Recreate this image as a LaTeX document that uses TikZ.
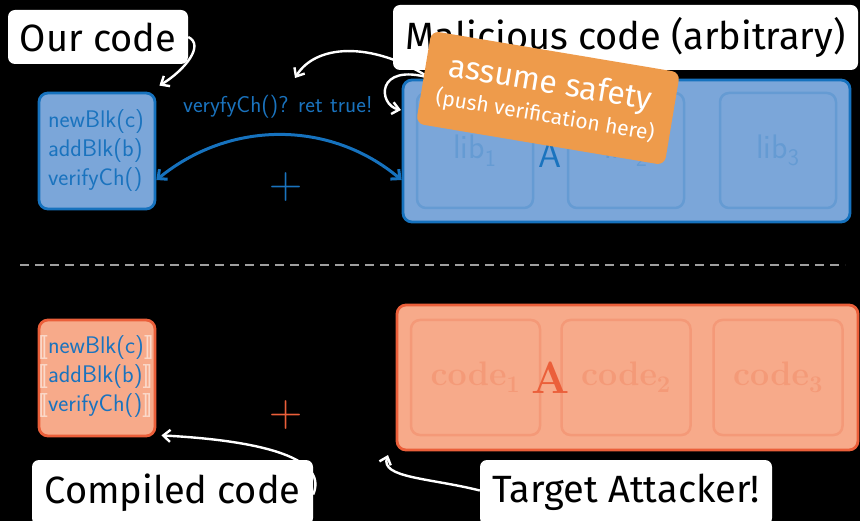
\documentclass[tikz,border=0pt]{standalone}
\usepackage[no-math]{fontspec}
\setmainfont{Fira Sans}
\newfontfamily\lmr{Latin Modern Roman}
\usetikzlibrary{arrows.meta}
\definecolor{bfill}{RGB}{123,166,217}
\definecolor{bdraw}{RGB}{22,114,190}
\definecolor{btext}{RGB}{26,115,190}
\definecolor{ofill}{RGB}{247,170,138}
\definecolor{odraw}{RGB}{235,95,58}
\definecolor{notec}{RGB}{238,155,75}
\newcommand{\fs}[1]{\fontsize{#1}{#1}\selectfont}
\newcommand{\lb}{\textcolor{white!55!ofill}{[\kern-0.13em[}}
\newcommand{\rb}{\textcolor{white!55!ofill}{]\kern-0.13em]}}
\begin{document}
\begin{tikzpicture}[x=1pt,y=-1pt,
  lbl/.style={fill=white, rounded corners=7pt, text=black, font=\fs{38}, inner sep=0pt},
  bbox/.style={fill=bfill, draw=bdraw, line width=2.8pt, rounded corners=9pt, inner sep=0pt},
  binner/.style={fill=bfill, draw=bdraw!22!bfill, line width=2.5pt, rounded corners=9pt, inner sep=0pt,
     minimum width=116pt, minimum height=115pt, text=bdraw!22!bfill, font=\sffamily\fs{34}},
  obox/.style={fill=ofill, draw=odraw, line width=2.8pt, rounded corners=9pt, inner sep=0pt},
  oinner/.style={fill=ofill, draw=odraw!22!ofill, line width=2.5pt, rounded corners=9pt, inner sep=0pt,
     minimum width=129pt, minimum height=115pt, text=odraw!22!ofill, font=\lmr\bfseries\fs{34}},
  codetxt/.style={text=btext, font=\sffamily\fs{24}, align=left, inner sep=0pt},
  plusmark/.style={font=\lmr\fs{46}, inner sep=0pt},
  warr/.style={draw=white, line width=2.4pt, -{Straight Barb[length=7pt,width=12pt,line width=2.4pt]}},
  barr/.style={draw=bdraw, line width=3pt, {Straight Barb[length=7pt,width=13pt,line width=3pt]}-{Straight Barb[length=7pt,width=13pt,line width=3pt]}}
]
\useasboundingbox[fill=black] (0,0) rectangle (860,521);

% top row
\node[bbox, minimum width=116pt, minimum height=116pt] (ob) at (97,151) {};
\node[codetxt] (obt) at (96,151) {newBlk(c)\\[5pt]addBlk(b)\\[5pt]verifyCh()};
\node[bbox, minimum width=447pt, minimum height=142pt] (mb) at (626.5,151) {};
\node[binner] (l1) at (475,150.5) {lib\textsubscript{1}};
\node[binner] (l2) at (626,150.5) {lib\textsubscript{2}};
\node[binner] (l3) at (778,150.5) {lib\textsubscript{3}};
\node[text=btext, font=\sffamily\fs{37}, inner sep=0pt] (ta1) at (550,155) {A};
\node[plusmark, text=btext] (plus1) at (286,187) {+};
\node[text=btext, font=\sffamily\fs{23}, inner sep=0pt] (vt) at (278,107) {veryfyCh()? ret true!};
\draw[barr] ([yshift=-29pt]ob.east) .. controls (230,120) and (330,120) .. ([yshift=-29pt]mb.west);

% labels top
\node[lbl, minimum width=180pt, minimum height=54pt] (oc) at (98,37) {Our code};
\draw[warr] (oc.east) .. controls (205,45) and (185,70) .. ([shift={(3,-6)}]ob.north east);
\coordinate (ns) at (430,78);
\draw[warr] (ns) .. controls (370,40) and (315,45) .. (295,78);
\draw[warr] (ns) .. controls (375,62) and (378,105) .. (401,110);
\node[lbl, minimum width=465pt, minimum height=65pt] (mc) at (625.5,37.5) {Malicious code (arbitrary)};
\node[rotate=-9.5, fill=notec, rounded corners=8pt, minimum width=252pt, minimum height=94pt,
  align=center, text=white, inner sep=0pt] (note) at (548,98)
  {{\fs{32}assume safety}\\[4pt]{\fs{21}(push verification here)}};

% dashed separator
\draw[gray!75, line width=1.2pt, dash pattern=on 9pt off 6pt] (20,265) -- (845,265);

% bottom row
\node[obox, minimum width=116pt, minimum height=116pt] (cb) at (97,378) {};
\node[codetxt] (cbt) at (96,377) {\lb newBlk(c)\rb\\[5pt]\lb addBlk(b)\rb\\[5pt]\lb verifyCh()\rb};
\node[obox, minimum width=461pt, minimum height=145pt] (ab) at (627.5,377.5) {};
\node[oinner] (c1) at (475.5,377.5) {code\textsubscript{1}};
\node[oinner] (c2) at (626,377.5) {code\textsubscript{2}};
\node[oinner] (c3) at (778,377.5) {code\textsubscript{3}};
\node[text=odraw, font=\lmr\bfseries\fs{45}, inner sep=0pt] (ta2) at (551,378) {A};
\node[plusmark, text=odraw] (plus2) at (286,415) {+};

\node[lbl, minimum width=281pt, minimum height=65pt] (cc) at (172.5,492.5) {Compiled code};
\node[lbl, minimum width=292pt, minimum height=65pt] (tat) at (626,492.5) {Target Attacker!};
\draw[warr] ([yshift=-2pt]cc.east) .. controls (330,455) and (250,440) .. ([shift={(5,-2)}]cb.south east);
\draw[warr] ([yshift=2pt]tat.west) .. controls (430,478) and (380,478) .. (388,455);
\end{tikzpicture}
\end{document}
